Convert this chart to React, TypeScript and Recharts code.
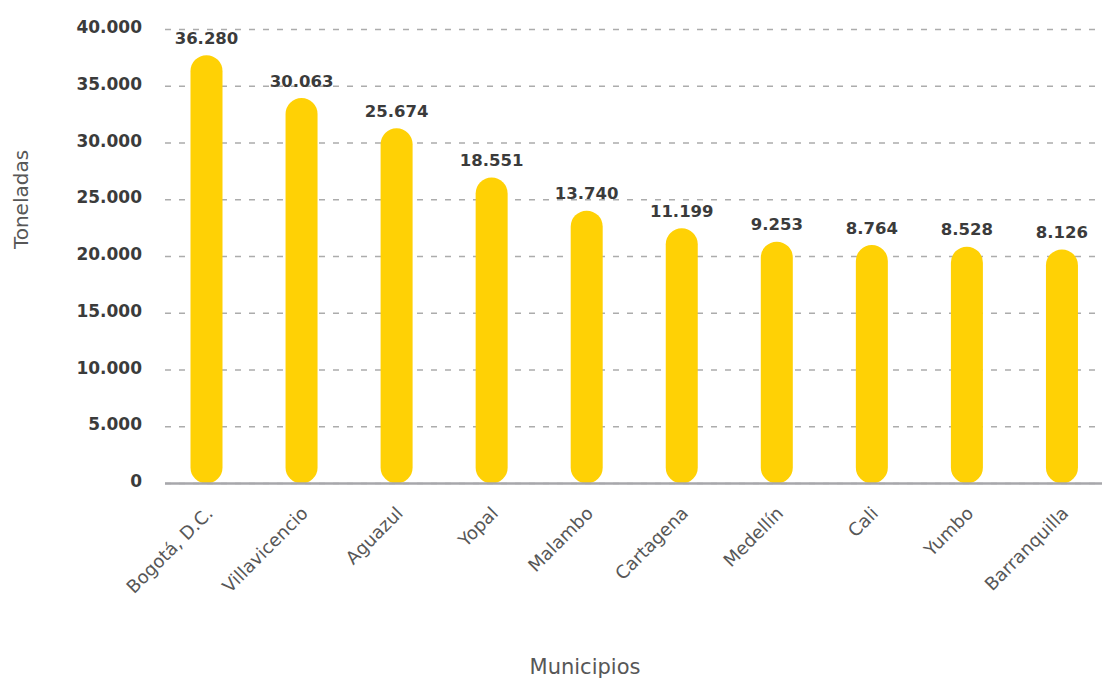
import React from 'react';
import { BarChart, Bar, XAxis, YAxis, CartesianGrid, LabelList, Label } from 'recharts';

// Toneladas por municipio
const municipios = [
  'Bogotá, D.C.',
  'Villavicencio',
  'Aguazul',
  'Yopal',
  'Malambo',
  'Cartagena',
  'Medellín',
  'Cali',
  'Yumbo',
  'Barranquilla',
];
const toneladas = [36280, 30063, 25674, 18551, 13740, 11199, 9253, 8764, 8528, 8126];
const yTicks = [0, 5000, 10000, 15000, 20000, 25000, 30000, 35000, 40000];

// The columns sit on their own (hidden) value axis, which starts below zero
const barAxisDomain: [number, number] = [-25800, 40000];

const data = municipios.map((municipio, i) => ({ municipio, toneladas: toneladas[i] }));

const FONT = "'DejaVu Sans', sans-serif";
const YELLOW = '#FFD105';
const DARK = '#3b3b3b';
const GREY_TEXT = '#575757';

const fmt = (v: number) => String(v).replace(/\B(?=(\d{3})+(?!\d))/g, '.');

const YTick = (props: any) => {
  const { y, payload } = props;
  return (
    <text x={142} y={y + 3.5} textAnchor="end" fontFamily={FONT} fontWeight={700} fontSize={17} fill={DARK}>
      {fmt(payload.value)}
    </text>
  );
};

const XTick = (props: any) => {
  const { x, y, payload } = props;
  return (
    <g transform={`translate(${x + 8},${y + 23}) rotate(-45)`}>
      <text x={0} y={0} textAnchor="end" fontFamily={FONT} fontSize={18} fill={GREY_TEXT}>
        {payload.value}
      </text>
    </g>
  );
};

const ValueLabel = (props: any) => {
  const { x, y, width, value } = props;
  return (
    <text
      x={x + width / 2}
      y={y - 11.5}
      textAnchor="middle"
      fontFamily={FONT}
      fontWeight={700}
      fontSize={16.5}
      fill={DARK}
    >
      {fmt(value)}
    </text>
  );
};

export default function App() {
  return (
    <div
      style={{
        position: 'fixed',
        left: 0,
        top: 0,
        width: 1102,
        height: 679,
        overflow: 'hidden',
        background: '#ffffff',
      }}
    >
      <BarChart
        width={1109}
        height={679}
        data={data}
        margin={{ top: 29.5, right: 0, bottom: 135.5, left: 0 }}
      >
        <CartesianGrid
          vertical={false}
          yAxisId="main"
          stroke="#acacac"
          strokeWidth={1.5}
          strokeDasharray="6 8"
        />
        <XAxis
          dataKey="municipio"
          interval={0}
          height={60}
          padding={{ left: -6.5, right: 0 }}
          tickLine={false}
          axisLine={{ stroke: '#a7a7ab', strokeWidth: 2.5 }}
          tick={<XTick />}
        >
          <Label
            content={() => (
              <text x={585} y={673.5} textAnchor="middle" fontFamily={FONT} fontSize={21} fill={GREY_TEXT}>
                Municipios
              </text>
            )}
          />
        </XAxis>
        <YAxis
          yAxisId="main"
          type="number"
          width={165}
          domain={[0, 40000]}
          allowDataOverflow
          ticks={yTicks}
          interval={0}
          axisLine={false}
          tickLine={false}
          tick={<YTick />}
        >
          <Label
            content={() => (
              <text
                x={0}
                y={0}
                transform="translate(27.5,199.5) rotate(-90)"
                textAnchor="middle"
                fontFamily={FONT}
                fontSize={20}
                fill={GREY_TEXT}
              >
                Toneladas
              </text>
            )}
          />
        </YAxis>
        <YAxis yAxisId="bars" hide domain={barAxisDomain} allowDataOverflow type="number" />
        <Bar
          yAxisId="bars"
          dataKey={(d: { toneladas: number }) => [barAxisDomain[0], d.toneladas]}
          fill={YELLOW}
          barSize={32}
          radius={16}
          isAnimationActive={false}
        >
          <LabelList dataKey="toneladas" content={<ValueLabel />} />
        </Bar>
      </BarChart>
    </div>
  );
}
